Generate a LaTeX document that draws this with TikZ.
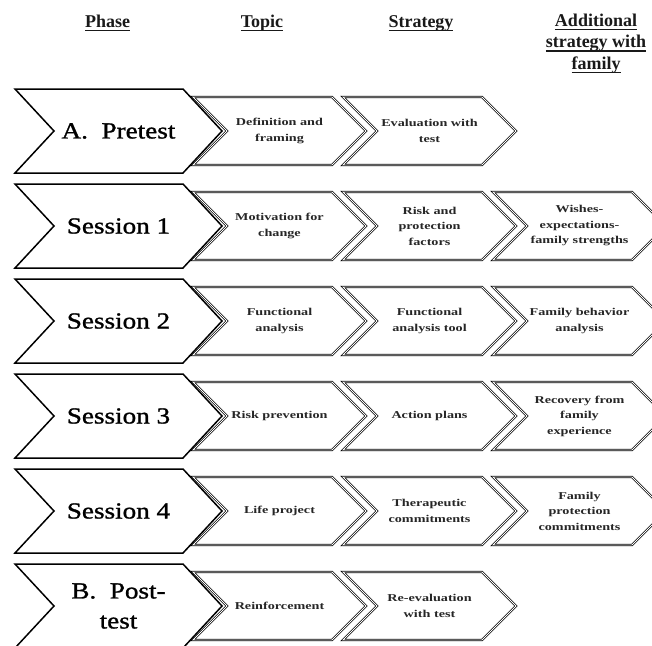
\documentclass[tikz,border=0pt]{standalone}
\usepackage{fontspec}
\setmainfont{Liberation Serif}
\newfontfamily\cellfont[FakeStretch=1.35]{Liberation Serif}
\newfontfamily\phasefont[FakeStretch=1.18,FakeBold=1.2]{Liberation Serif}
\newcommand\hdul[1]{\setbox0=\hbox{#1}\copy0\kern-\wd0\rule[-4pt]{\wd0}{1.4pt}}
\newcommand\bigchevron[1]{\draw[bigchev] (15,#1) -- (183,#1) -- (222,#1+42) -- (183,#1+84) -- (15,#1+84) -- (54,#1+42) -- cycle;}
\newcommand\smallchevron[2]{\draw[smallchev] (#1,#2+8) -- (#1+139,#2+8) -- (#1+173,#2+42) -- (#1+139,#2+76) -- (#1,#2+76) -- (#1+34,#2+42) -- cycle;}
\begin{document}
\begin{tikzpicture}[x=1pt,y=-1pt,
  bigchev/.style={draw=black, line width=1.5pt, line join=miter},
  smallchev/.style={draw=black, line width=0.8pt, double=white, double distance=0.8pt, line join=miter},
  phase/.style={font=\phasefont\fontsize{23}{30}\selectfont, align=center, inner sep=0pt},
  cell/.style={font=\cellfont\bfseries\fontsize{10.5}{15.5}\selectfont, align=center, inner sep=0pt, text=black!85},
  head/.style={font=\bfseries\fontsize{18}{21.5}\selectfont, inner sep=0pt, anchor=base, text=black!90}]
\useasboundingbox (0,0) rectangle (652,645);
\clip (0,0) rectangle (652,645);
% headers
\node[head] (hphase) at (107.5,27) {\hdul{Phase}};
\node[head] (htopic) at (262,27) {\hdul{Topic}};
\node[head] (hstrat) at (421,27) {\hdul{Strategy}};
\node[head] (hadda) at (596,26) {\hdul{Additional}};
\node[head] (haddb) at (596,47.5) {\hdul{strategy with}};
\node[head] (haddc) at (596,69) {\hdul{family}};
% chevrons
\foreach \t in {89,184,279,374,469,564} {\bigchevron{\t}}
\foreach \t in {89,184,279,374,469,564} {\smallchevron{193}{\t}\smallchevron{343}{\t}}
\foreach \t in {184,279,374,469} {\smallchevron{493}{\t}}
% phase labels
\node[phase] (p0) at (118.5,131) {A.~~Pretest};
\node[phase] (p1) at (118.5,226) {Session 1};
\node[phase] (p2) at (118.5,321) {Session 2};
\node[phase] (p3) at (118.5,416) {Session 3};
\node[phase] (p4) at (118.5,511) {Session 4};
\node[phase] (p5) at (118.5,606) {B.~~Post-\\test};
% cells
\node[cell] (t0) at (279.5,131) {Definition and\\framing};
\node[cell] (s0) at (429.5,131) {Evaluation with\\test};
\node[cell] (t1) at (279.5,226) {Motivation for\\change};
\node[cell] (s1) at (429.5,226) {Risk and\\protection\\factors};
\node[cell] (f1) at (579.5,226) {Wishes-\\expectations-\\family strengths};
\node[cell] (t2) at (279.5,321) {Functional\\analysis};
\node[cell] (s2) at (429.5,321) {Functional\\analysis tool};
\node[cell] (f2) at (579.5,321) {Family behavior\\analysis};
\node[cell] (t3) at (279.5,416) {Risk prevention};
\node[cell] (s3) at (429.5,416) {Action plans};
\node[cell] (f3) at (579.5,416) {Recovery from\\family\\experience};
\node[cell] (t4) at (279.5,511) {Life project};
\node[cell] (s4) at (429.5,511) {Therapeutic\\commitments};
\node[cell] (f4) at (579.5,511) {Family\\protection\\commitments};
\node[cell] (t5) at (279.5,606) {Reinforcement};
\node[cell] (s5) at (429.5,606) {Re-evaluation\\with test};
\end{tikzpicture}
\end{document}
